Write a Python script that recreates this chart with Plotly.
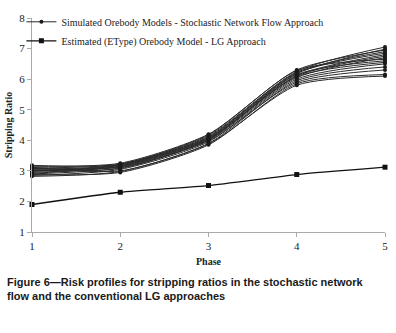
import plotly.graph_objects as go

phases = [1, 2, 3, 4, 5]

sim_01 = [3.15, 3.25, 4.20, 6.30, 6.95]
sim_02 = [3.10, 3.22, 4.15, 6.25, 7.05]
sim_03 = [3.05, 3.20, 4.10, 6.20, 6.85]
sim_04 = [3.00, 3.18, 4.08, 6.15, 6.60]
sim_05 = [2.95, 3.15, 4.05, 6.10, 6.75]
sim_06 = [2.90, 3.10, 4.00, 6.05, 6.70]
sim_07 = [2.85, 3.05, 3.95, 6.00, 6.50]
sim_08 = [3.12, 3.00, 3.90, 5.95, 6.40]
sim_09 = [2.88, 2.95, 3.85, 5.85, 6.15]
sim_10 = [3.08, 3.12, 3.98, 5.90, 6.30]
sim_11 = [2.98, 3.20, 4.12, 6.22, 6.90]
sim_12 = [3.02, 3.08, 4.02, 6.08, 6.55]
sim_13 = [2.92, 3.16, 4.06, 6.12, 6.80]
sim_14 = [3.18, 3.22, 4.18, 6.28, 6.65]
sim_15 = [2.82, 2.98, 3.88, 5.80, 6.10]
sim_16 = [3.06, 3.14, 4.03, 6.18, 6.98]
simulations = [sim_01, sim_02, sim_03, sim_04, sim_05, sim_06, sim_07, sim_08,
               sim_09, sim_10, sim_11, sim_12, sim_13, sim_14, sim_15, sim_16]

lg_values = [1.90, 2.30, 2.52, 2.88, 3.12]

sim_name = "Simulated Orebody Models - Stochastic Network Flow Approach"
lg_name = "Estimated (EType) Orebody Model - LG Approach"
caption = ("Figure 6\u2014Risk profiles for stripping ratios in the stochastic network<br>"
           "flow and the conventional LG approaches")

fig = go.Figure()
for i, s in enumerate(simulations):
    fig.add_trace(go.Scatter(
        x=phases, y=s, mode="lines+markers", name=sim_name,
        showlegend=(i == 0), legendgroup="sim", cliponaxis=False,
        line=dict(color="#2a2a2a", width=1, shape="spline", smoothing=0.7),
        marker=dict(symbol="circle", size=4, color="#1a1a1a"),
    ))
fig.add_trace(go.Scatter(
    x=phases, y=lg_values, mode="lines+markers", name=lg_name, cliponaxis=False,
    line=dict(color="#111111", width=1.3, shape="spline", smoothing=0.5),
    marker=dict(symbol="square", size=5, color="#111111"),
))

fig.update_layout(
    width=396, height=333,
    margin=dict(l=32, r=11, t=7, b=101),
    paper_bgcolor="white", plot_bgcolor="white",
    font=dict(family="Liberation Serif", size=11, color="#222222"),
    showlegend=True,
    legend=dict(x=-0.03, y=1.05, xanchor="left", yanchor="top",
                bgcolor="rgba(0,0,0,0)", font=dict(size=10, family="Liberation Serif"),
                itemwidth=30, tracegroupgap=0),
    xaxis=dict(range=[1, 5], tickvals=phases, showline=True, linecolor="#aaaaaa",
               ticks="outside", ticklen=4, tickcolor="#aaaaaa", showgrid=False,
               zeroline=False, tickfont=dict(size=11), automargin=False,
               title=dict(text="<b>Phase</b>", font=dict(size=10), standoff=6)),
    yaxis=dict(range=[1, 8], dtick=1, showline=True, linecolor="#aaaaaa",
               ticks="outside", ticklen=4, tickcolor="#aaaaaa", showgrid=False,
               zeroline=False, tickfont=dict(size=11), automargin=False,
               title=dict(text="<b>Stripping Ratio</b>", font=dict(size=10), standoff=4)),
    annotations=[dict(
        text="<b>" + caption + "</b>", xref="paper", yref="paper",
        x=-0.077, y=-0.195, xanchor="left", yanchor="top", align="left",
        showarrow=False,
        font=dict(family="Liberation Sans", size=11, color="#1a1a1a"),
    )],
)

fig.write_html("out.html", config={"displayModeBar": False},
               post_script="document.body.style.margin='0px';")
